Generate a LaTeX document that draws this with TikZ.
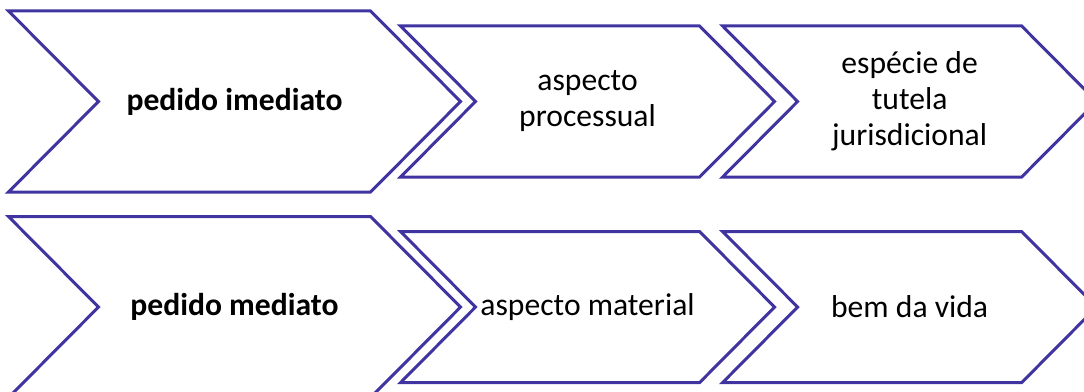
\documentclass[tikz,border=0pt]{standalone}
\usepackage{fontspec}
\setmainfont{Carlito}
\usepackage{tikz}
\usetikzlibrary{positioning}
\definecolor{chevline}{RGB}{63,52,160}

\begin{document}
\begin{tikzpicture}[-,inner sep=0pt,node distance=2cm,semithick]
\tikzstyle{bigbody}=[rectangle,minimum width=5.42cm,minimum height=3.6cm,align=center,text=black,font=\fontsize{18}{20.5}\selectfont\bfseries]
\tikzstyle{smallbody}=[rectangle,minimum width=4.46cm,minimum height=3cm,align=center,text=black,font=\fontsize{18}{20.5}\selectfont]
\tikzstyle{outline}=[draw=chevline,line width=1.7pt]
\useasboundingbox (0,0) rectangle (21.68,-7.82);
% bodies of the arrows (text part)
\node[bigbody] (pimed) at (4.69,-2.03) {pedido imediato};
\node[smallbody] (procs) [right=2.1cm of pimed]{aspecto\\processual};
\node[smallbody] (tutela) [right=1.96cm of procs]{espécie de\\tutela\\jurisdicional};
\node[bigbody] (pmed) [below=0.49cm of pimed] {pedido mediato};
\node[smallbody] (mater) [right=2.1cm of pmed]{aspecto material};
\node[smallbody] (bem) [right=1.96cm of mater]{bem da vida};
% chevron outlines
\foreach \n/\d in {pimed/1.8cm,procs/1.5cm,tutela/1.5cm,pmed/1.8cm,mater/1.5cm,bem/1.5cm}
  \draw[outline] ([xshift=-\d]\n.north west) -- (\n.north east) -- ([xshift=\d]\n.east)
    -- (\n.south east) -- ([xshift=-\d]\n.south west) -- (\n.west) -- cycle;
\end{tikzpicture}
\end{document}
